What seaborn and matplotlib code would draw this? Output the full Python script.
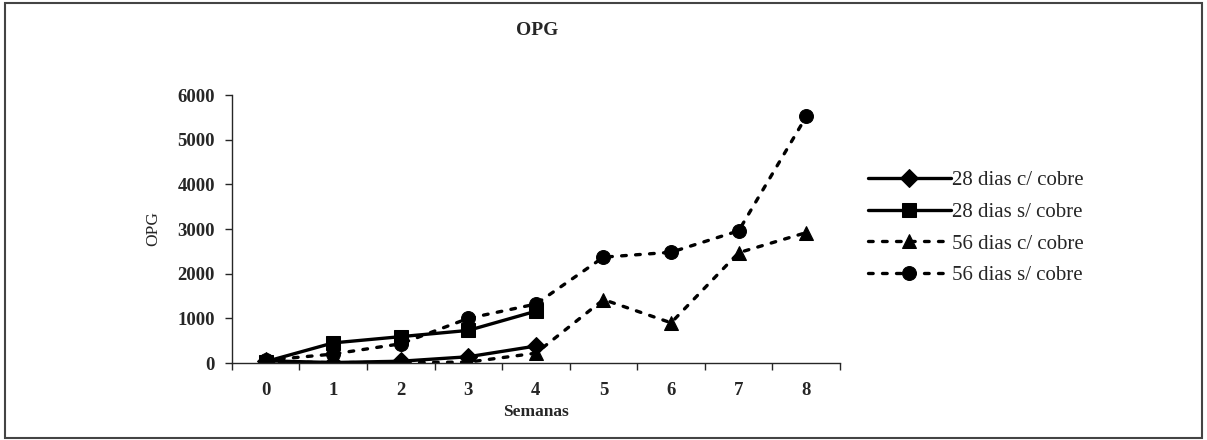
import numpy as np
import pandas as pd
import seaborn as sns
import matplotlib.pyplot as plt
from matplotlib.patches import Rectangle

# values
semanas = [0, 1, 2, 3, 4, 5, 6, 7, 8]
c28_cobre = [50, 10, 40, 140, 380]
s28_cobre = [30, 450, 590, 730, 1160]
c56_cobre = [20, 10, 10, 20, 220, 1420, 900, 2470, 2920]
s56_cobre = [60, 200, 430, 1000, 1320, 2370, 2480, 2960, 5520]

series = [
    ("28 dias c/ cobre", c28_cobre, "D", "-"),
    ("28 dias s/ cobre", s28_cobre, "s", "-"),
    ("56 dias c/ cobre", c56_cobre, "^", ":"),
    ("56 dias s/ cobre", s56_cobre, "o", ":"),
]

sns.set_style("ticks")
plt.rcParams["font.family"] = ["Liberation Serif", "DejaVu Serif"]

fig = plt.figure(figsize=(12.07, 4.4), dpi=100)
ax = fig.add_axes([0.192, 0.175, 0.504, 0.609])

for name, vals, mk, ls in series:
    df = pd.DataFrame({"semana": semanas[:len(vals)], "opg": vals})
    sns.lineplot(data=df, x="semana", y="opg", ax=ax, color="black",
                 marker=mk, markersize=10 if mk != "D" else 9,
                 markeredgecolor="black", linewidth=2.4, label=name)
    l = ax.lines[-1]
    if ls == ":":
        l.set_linestyle((0, (1.4, 2.8)))
        l.set_dash_capstyle("round")

ax.set_xlim(-0.5, 8.5)
ax.set_ylim(0, 6000)
ax.set_yticks(np.arange(0, 6001, 1000))
ax.set_xticks(semanas)
ax.set_xticks(np.arange(-0.5, 8.6, 1), minor=True)
ax.tick_params(axis="x", which="major", length=0, pad=14)
ax.tick_params(axis="x", which="minor", length=5, direction="out", width=1)
ax.tick_params(axis="y", length=5, direction="out", width=1, pad=7)
for t in ax.get_xticklabels() + ax.get_yticklabels():
    t.set_fontsize(13.5)
    t.set_fontweight("bold")
sns.despine(ax=ax)
for sp in ax.spines.values():
    sp.set_linewidth(1)

ax.set_xlabel("Semanas", fontsize=12.5, fontweight="bold", labelpad=3)
ax.set_ylabel("OPG", fontsize=12.5, labelpad=12)
fig.text(0.445, 0.93, "OPG", ha="center", va="center", fontsize=14, fontweight="bold")

leg = ax.legend(loc="center left", bbox_to_anchor=(0.712, 0.482), bbox_transform=fig.transFigure,
                frameon=False, fontsize=15, handlelength=4.0, handletextpad=0.05,
                labelspacing=0.58, borderaxespad=0)
for h in leg.get_lines():
    h.set_linewidth(2.4)

fig.patches.append(Rectangle((0.004, 0.005), 0.992, 0.988, transform=fig.transFigure,
                             fill=False, edgecolor="#444444", linewidth=1.5))

fig.savefig("out.png", dpi=100)
